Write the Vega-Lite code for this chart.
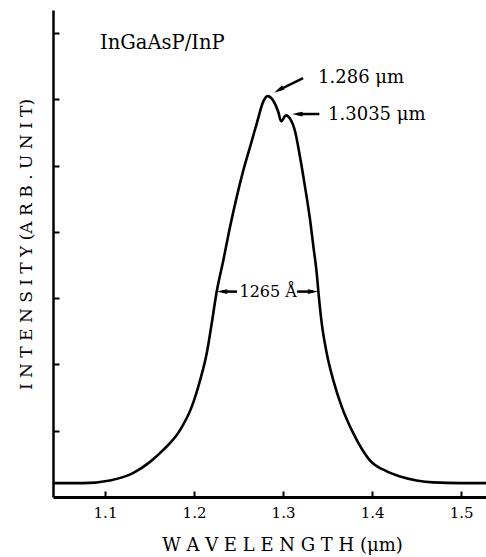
{
  "$schema": "https://vega.github.io/schema/vega-lite/v6.json",
  "width": 433,
  "height": 487,
  "autosize": {"type": "none"},
  "padding": {"left": 53, "top": 10, "right": 0, "bottom": 60},
  "background": "white",
  "config": {"view": {"stroke": null}, "font": "DejaVu Serif"},
  "datasets": {
    "spectrum": [
      {"wl": 1.0416, "I": 0.21}, {"wl": 1.0753, "I": 0.21}, {"wl": 1.1056, "I": 0.25},
      {"wl": 1.1315, "I": 0.36}, {"wl": 1.1506, "I": 0.53}, {"wl": 1.1655, "I": 0.71},
      {"wl": 1.1843, "I": 1.01}, {"wl": 1.1974, "I": 1.36}, {"wl": 1.2068, "I": 1.76},
      {"wl": 1.2143, "I": 2.17}, {"wl": 1.2199, "I": 2.62}, {"wl": 1.2255, "I": 3.1},
      {"wl": 1.2329, "I": 3.57}, {"wl": 1.2405, "I": 4.08}, {"wl": 1.2480, "I": 4.53},
      {"wl": 1.2554, "I": 4.93}, {"wl": 1.2629, "I": 5.28}, {"wl": 1.2705, "I": 5.64},
      {"wl": 1.2779, "I": 5.97}, {"wl": 1.2824, "I": 6.05}, {"wl": 1.2891, "I": 5.98},
      {"wl": 1.2947, "I": 5.81}, {"wl": 1.2978, "I": 5.67}, {"wl": 1.3034, "I": 5.76},
      {"wl": 1.3079, "I": 5.71}, {"wl": 1.3135, "I": 5.52}, {"wl": 1.3191, "I": 5.13},
      {"wl": 1.3247, "I": 4.68}, {"wl": 1.3304, "I": 4.18}, {"wl": 1.3341, "I": 3.78},
      {"wl": 1.3379, "I": 3.37}, {"wl": 1.3397, "I": 3.1}, {"wl": 1.3435, "I": 2.62},
      {"wl": 1.3491, "I": 2.17}, {"wl": 1.3565, "I": 1.76}, {"wl": 1.3660, "I": 1.36},
      {"wl": 1.3790, "I": 0.96}, {"wl": 1.3978, "I": 0.55}, {"wl": 1.4160, "I": 0.39},
      {"wl": 1.4315, "I": 0.31}, {"wl": 1.4500, "I": 0.25}, {"wl": 1.4686, "I": 0.22},
      {"wl": 1.5000, "I": 0.21}, {"wl": 1.5281, "I": 0.21}
    ],
    "shafts": [
      {"x": 1.3225, "y": 6.32, "x2": 1.2951, "y2": 6.142},
      {"x": 1.3408, "y": 5.78, "x2": 1.3161, "y2": 5.78},
      {"x": 1.2483, "y": 3.1, "x2": 1.2315, "y2": 3.1},
      {"x": 1.3158, "y": 3.1, "x2": 1.3337, "y2": 3.1}
    ],
    "headsDiag": [{"x": 1.2951, "y": 6.142}],
    "headsLeft": [{"x": 1.3161, "y": 5.78}, {"x": 1.2315, "y": 3.1}],
    "headsRight": [{"x": 1.3337, "y": 3.1}],
    "labels": [
      {"x": 1.3394, "y": 6.33, "text": "1.286 μm"},
      {"x": 1.3506, "y": 5.76, "text": "1.3035 μm"}
    ],
    "sample": [{"x": 1.0944, "y": 6.85, "text": "InGaAsP/InP"}],
    "fwhm": [{"x": 1.2833, "y": 3.1, "text": "1265 Å"}]
  },
  "layer": [
    {
      "data": {"name": "spectrum"},
      "mark": {"type": "line", "color": "black", "strokeWidth": 2.6, "interpolate": "monotone"},
      "encoding": {
        "x": {
          "field": "wl", "type": "quantitative",
          "scale": {"domain": [1.0416, 1.528], "nice": false, "zero": false},
          "axis": {
            "title": "W A V E L E N G T H  (μm)",
            "values": [1.1, 1.2, 1.3, 1.4, 1.5], "format": ".1f",
            "grid": false, "domainColor": "black", "domainWidth": 3,
            "tickColor": "black", "tickSize": -6, "tickWidth": 2,
            "labelFont": "DejaVu Serif", "labelFontSize": 15, "labelColor": "black", "labelPadding": 14,
            "titleFont": "DejaVu Serif", "titleFontSize": 18, "titleFontWeight": "normal", "titleColor": "black",
            "titleX": 229, "titleY": 48, "titleBaseline": "middle", "titleAlign": "center"
          }
        },
        "y": {
          "field": "I", "type": "quantitative",
          "scale": {"domain": [0, 7.35], "nice": false, "zero": true},
          "axis": {
            "title": "I N T E N S I T Y (A R B . U N I T)",
            "values": [1, 2, 3, 4, 5, 6, 7], "labels": false,
            "grid": false, "domainColor": "black", "domainWidth": 2.5,
            "tickColor": "black", "tickSize": -6, "tickWidth": 2,
            "titleFont": "DejaVu Serif", "titleFontSize": 17, "titleFontWeight": "normal", "titleColor": "black",
            "titleAngle": -90, "titleX": -27, "titleY": 234, "titleBaseline": "middle", "titleAlign": "center"
          }
        }
      }
    },
    {
      "data": {"name": "shafts"},
      "mark": {"type": "rule", "color": "black", "strokeWidth": 2.5},
      "encoding": {
        "x": {"field": "x", "type": "quantitative"},
        "y": {"field": "y", "type": "quantitative"},
        "x2": {"field": "x2"},
        "y2": {"field": "y2"}
      }
    },
    {
      "data": {"name": "headsDiag"},
      "mark": {"type": "point", "filled": true, "color": "black", "opacity": 1, "size": 110, "shape": "M-1,0L1,-0.45L1,0.45Z", "angle": 330},
      "encoding": {"x": {"field": "x", "type": "quantitative"}, "y": {"field": "y", "type": "quantitative"}}
    },
    {
      "data": {"name": "headsLeft"},
      "mark": {"type": "point", "filled": true, "color": "black", "opacity": 1, "size": 110, "shape": "M-1,0L1,-0.45L1,0.45Z"},
      "encoding": {"x": {"field": "x", "type": "quantitative"}, "y": {"field": "y", "type": "quantitative"}}
    },
    {
      "data": {"name": "headsRight"},
      "mark": {"type": "point", "filled": true, "color": "black", "opacity": 1, "size": 110, "shape": "M-1,0L1,-0.45L1,0.45Z", "angle": 180},
      "encoding": {"x": {"field": "x", "type": "quantitative"}, "y": {"field": "y", "type": "quantitative"}}
    },
    {
      "data": {"name": "labels"},
      "mark": {"type": "text", "align": "left", "baseline": "middle", "font": "DejaVu Serif", "fontSize": 18, "color": "black"},
      "encoding": {
        "x": {"field": "x", "type": "quantitative"},
        "y": {"field": "y", "type": "quantitative"},
        "text": {"field": "text"}
      }
    },
    {
      "data": {"name": "sample"},
      "mark": {"type": "text", "align": "left", "baseline": "middle", "font": "DejaVu Serif", "fontSize": 19.5, "color": "black"},
      "encoding": {
        "x": {"field": "x", "type": "quantitative"},
        "y": {"field": "y", "type": "quantitative"},
        "text": {"field": "text"}
      }
    },
    {
      "data": {"name": "fwhm"},
      "mark": {"type": "text", "align": "center", "baseline": "middle", "font": "DejaVu Serif", "fontSize": 16, "color": "black"},
      "encoding": {
        "x": {"field": "x", "type": "quantitative"},
        "y": {"field": "y", "type": "quantitative"},
        "text": {"field": "text"}
      }
    }
  ]
}
